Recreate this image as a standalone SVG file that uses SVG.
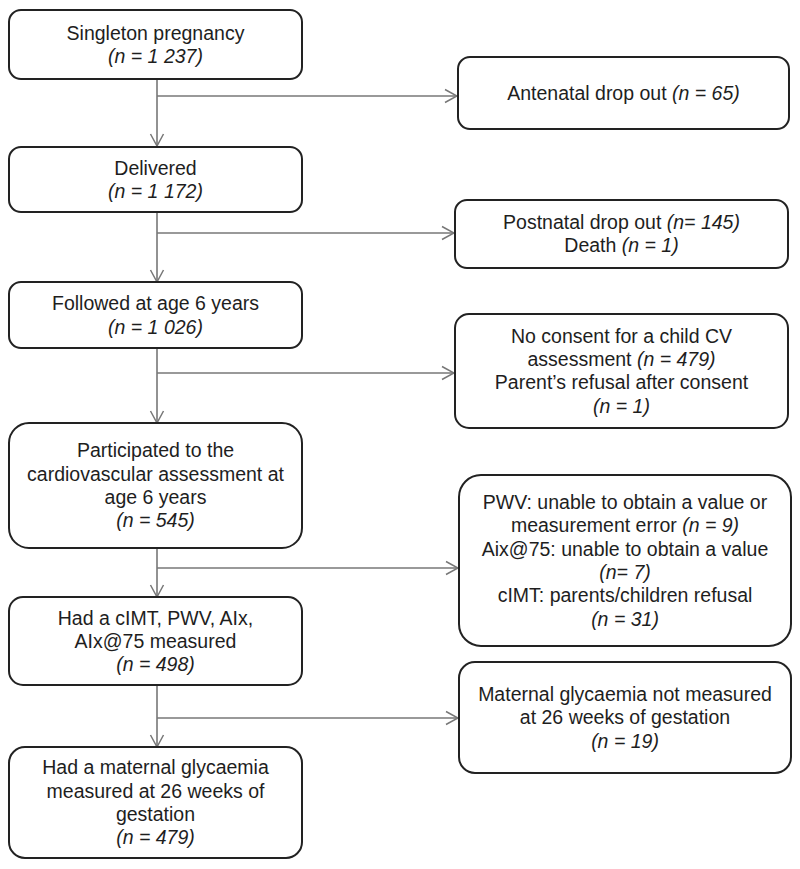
<svg xmlns="http://www.w3.org/2000/svg" width="800" height="869" viewBox="0 0 800 869">
<style>
.box{fill:#fff;stroke:#222;stroke-width:2}
text{font-family:"Liberation Sans",Arial,sans-serif;font-size:19.5px;fill:#1e1e1e;text-anchor:middle}
.i{font-style:italic}
.c{fill:none;stroke:#777;stroke-width:1.6}
</style>
<defs>
<marker id="ah" viewBox="0 0 14 16" refX="13" refY="8" markerWidth="14" markerHeight="16" markerUnits="userSpaceOnUse" orient="auto">
<path d="M1,1.5 L13,8 L1,14.5" fill="none" stroke="#777" stroke-width="1.5"/>
</marker>
</defs>
<g id="connectors">
<path class="c" d="M157,79 V146" marker-end="url(#ah)"/>
<path class="c" d="M157,96 H457" marker-end="url(#ah)"/>
<path class="c" d="M157,212 V282" marker-end="url(#ah)"/>
<path class="c" d="M157,233 H454" marker-end="url(#ah)"/>
<path class="c" d="M157,348 V423" marker-end="url(#ah)"/>
<path class="c" d="M157,373 H454" marker-end="url(#ah)"/>
<path class="c" d="M157,548 V597" marker-end="url(#ah)"/>
<path class="c" d="M157,568 H458" marker-end="url(#ah)"/>
<path class="c" d="M157,685 V747" marker-end="url(#ah)"/>
<path class="c" d="M157,718 H458" marker-end="url(#ah)"/>
</g>
<g id="n1">
<rect class="box" x="9" y="10" width="293" height="69" rx="12"/>
<text x="155.5" y="40">Singleton pregnancy</text>
<text x="155.5" y="63.3" class="i">(n = 1 237)</text>
</g>
<g id="n2">
<rect class="box" x="9" y="147" width="293" height="65" rx="12"/>
<text x="155.5" y="174.6">Delivered</text>
<text x="155.5" y="197.9" class="i">(n = 1 172)</text>
</g>
<g id="n3">
<rect class="box" x="9" y="282" width="293" height="66" rx="12"/>
<text x="155.5" y="310.2">Followed at age 6 years</text>
<text x="155.5" y="333.5" class="i">(n = 1 026)</text>
</g>
<g id="n4">
<rect class="box" x="9" y="423" width="293" height="125" rx="20"/>
<text x="155.5" y="457.3">Participated to the</text>
<text x="155.5" y="480.6">cardiovascular assessment at</text>
<text x="155.5" y="503.9">age 6 years</text>
<text x="155.5" y="527.2" class="i">(n = 545)</text>
</g>
<g id="n5">
<rect class="box" x="9" y="597" width="293" height="88" rx="14"/>
<text x="155.5" y="624.5">Had a cIMT, PWV, AIx,</text>
<text x="155.5" y="647.8">AIx@75 measured</text>
<text x="155.5" y="671.1" class="i">(n = 498)</text>
</g>
<g id="n6">
<rect class="box" x="9" y="747" width="293" height="111" rx="16"/>
<text x="155.5" y="774.3">Had a maternal glycaemia</text>
<text x="155.5" y="797.6">measured at 26 weeks of</text>
<text x="155.5" y="820.9">gestation</text>
<text x="155.5" y="844.2" class="i">(n = 479)</text>
</g>
<g id="r1">
<rect class="box" x="458" y="57" width="331" height="72" rx="12"/>
<text x="623.5" y="99.8">Antenatal drop out <tspan class="i">(n = 65)</tspan></text>
</g>
<g id="r2">
<rect class="box" x="455" y="200" width="333" height="68" rx="12"/>
<text x="621.5" y="229.2">Postnatal drop out <tspan class="i">(n= 145)</tspan></text>
<text x="621.5" y="252.4">Death <tspan class="i">(n = 1)</tspan></text>
</g>
<g id="r3">
<rect class="box" x="455" y="314" width="333" height="114" rx="14"/>
<text x="621.5" y="342.8">No consent for a child CV</text>
<text x="621.5" y="366.1">assessment <tspan class="i">(n = 479)</tspan></text>
<text x="621.5" y="389.4">Parent’s refusal after consent</text>
<text x="621.5" y="412.7" class="i">(n = 1)</text>
</g>
<g id="r4">
<rect class="box" x="459" y="475" width="332" height="171" rx="22"/>
<text x="625" y="509">PWV: unable to obtain a value or</text>
<text x="625" y="532.3">measurement error <tspan class="i">(n = 9)</tspan></text>
<text x="625" y="555.6">Aix@75: unable to obtain a value</text>
<text x="625" y="578.9" class="i">(n= 7)</text>
<text x="625" y="602.2">cIMT: parents/children refusal</text>
<text x="625" y="625.5" class="i">(n = 31)</text>
</g>
<g id="r5">
<rect class="box" x="459" y="662" width="332" height="111" rx="16"/>
<text x="625" y="701">Maternal glycaemia not measured</text>
<text x="625" y="724.3">at 26 weeks of gestation</text>
<text x="625" y="747.6" class="i">(n = 19)</text>
</g>
</svg>
